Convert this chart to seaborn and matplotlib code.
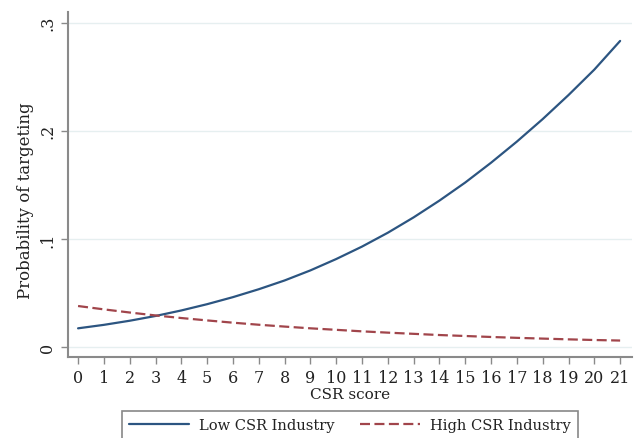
import matplotlib
matplotlib.use("Agg")
import matplotlib.pyplot as plt
import seaborn as sns
import pandas as pd

csr_score = list(range(22))
low_csr = [0.0175, 0.0207, 0.0245, 0.0289, 0.0340, 0.0398, 0.0463, 0.0536,
           0.0617, 0.0710, 0.0815, 0.0930, 0.1058, 0.1200, 0.1355, 0.1522,
           0.1705, 0.1900, 0.2108, 0.2330, 0.2565, 0.2830]
high_csr = [0.0381, 0.0350, 0.0321, 0.0294, 0.0270, 0.0248, 0.0227, 0.0208,
            0.0191, 0.0175, 0.0161, 0.0147, 0.0135, 0.0124, 0.0113, 0.0104,
            0.0095, 0.0087, 0.0080, 0.0073, 0.0067, 0.0062]
series_names = ["Low CSR Industry", "High CSR Industry"]
y_ticks = [0, 0.1, 0.2, 0.3]
y_ticklabels = ["0", ".1", ".2", ".3"]

df = pd.DataFrame({
    "CSR score": csr_score * 2,
    "prob": low_csr + high_csr,
    "group": [series_names[0]] * len(csr_score) + [series_names[1]] * len(csr_score),
})

sns.set_theme(style="white")
plt.rcParams["font.family"] = ["DejaVu Serif"]

fig = plt.figure(figsize=(6.41, 4.39), dpi=100)
ax = fig.add_axes([68 / 641, 1 - 358 / 439, (632 - 68) / 641, (358 - 12.7) / 439])

palette = {series_names[0]: "#2c5581", series_names[1]: "#a1454b"}
sns.lineplot(data=df, x="CSR score", y="prob", hue="group", style="group",
             palette=palette, dashes={series_names[0]: "", series_names[1]: (4.5, 2.0)},
             linewidth=1.6, ax=ax, legend=False)

ax.set_xlim(-0.39, 21.46)
ax.set_ylim(-0.009, 0.31)
ax.set_xticks(csr_score)
ax.set_xticklabels([str(v) for v in csr_score])
ax.set_yticks(y_ticks)
ax.set_yticklabels(y_ticklabels, rotation=90, va="center")
ax.grid(axis="y", color="#e6eff0", linewidth=1.0)
ax.set_axisbelow(True)

for s in ["top", "right"]:
    ax.spines[s].set_visible(False)
for s in ["left", "bottom"]:
    ax.spines[s].set_color("#8a8a8a")
    ax.spines[s].set_linewidth(1.5)

ax.tick_params(axis="both", which="both", direction="out", length=5, width=1,
               color="#8a8a8a", labelsize=11.5, labelcolor="#222222", pad=3.5)
ax.tick_params(axis="x", bottom=True)
ax.tick_params(axis="y", left=True)
ax.set_xlabel("CSR score", fontsize=11, color="#222222", labelpad=1)
ax.set_ylabel("Probability of targeting", fontsize=11.9, color="#222222")
ax.yaxis.set_label_coords(-0.060, 0.456)

handles = [
    plt.Line2D([], [], color=palette[series_names[0]], lw=1.6),
    plt.Line2D([], [], color=palette[series_names[1]], lw=1.6, dashes=(4.5, 2.0)),
]
leg = fig.legend(handles, series_names, loc="upper center",
                 bbox_to_anchor=(350 / 641, 1 - 411.5 / 439), ncol=2,
                 frameon=True, fancybox=False, edgecolor="#6a6a6a",
                 fontsize=10.5, handlelength=4.1, handletextpad=0.7,
                 columnspacing=1.7, borderpad=0.5, borderaxespad=0)
leg.get_frame().set_linewidth(1.2)
for t in leg.get_texts():
    t.set_color("#222222")

fig.savefig("out.png", dpi=100)
